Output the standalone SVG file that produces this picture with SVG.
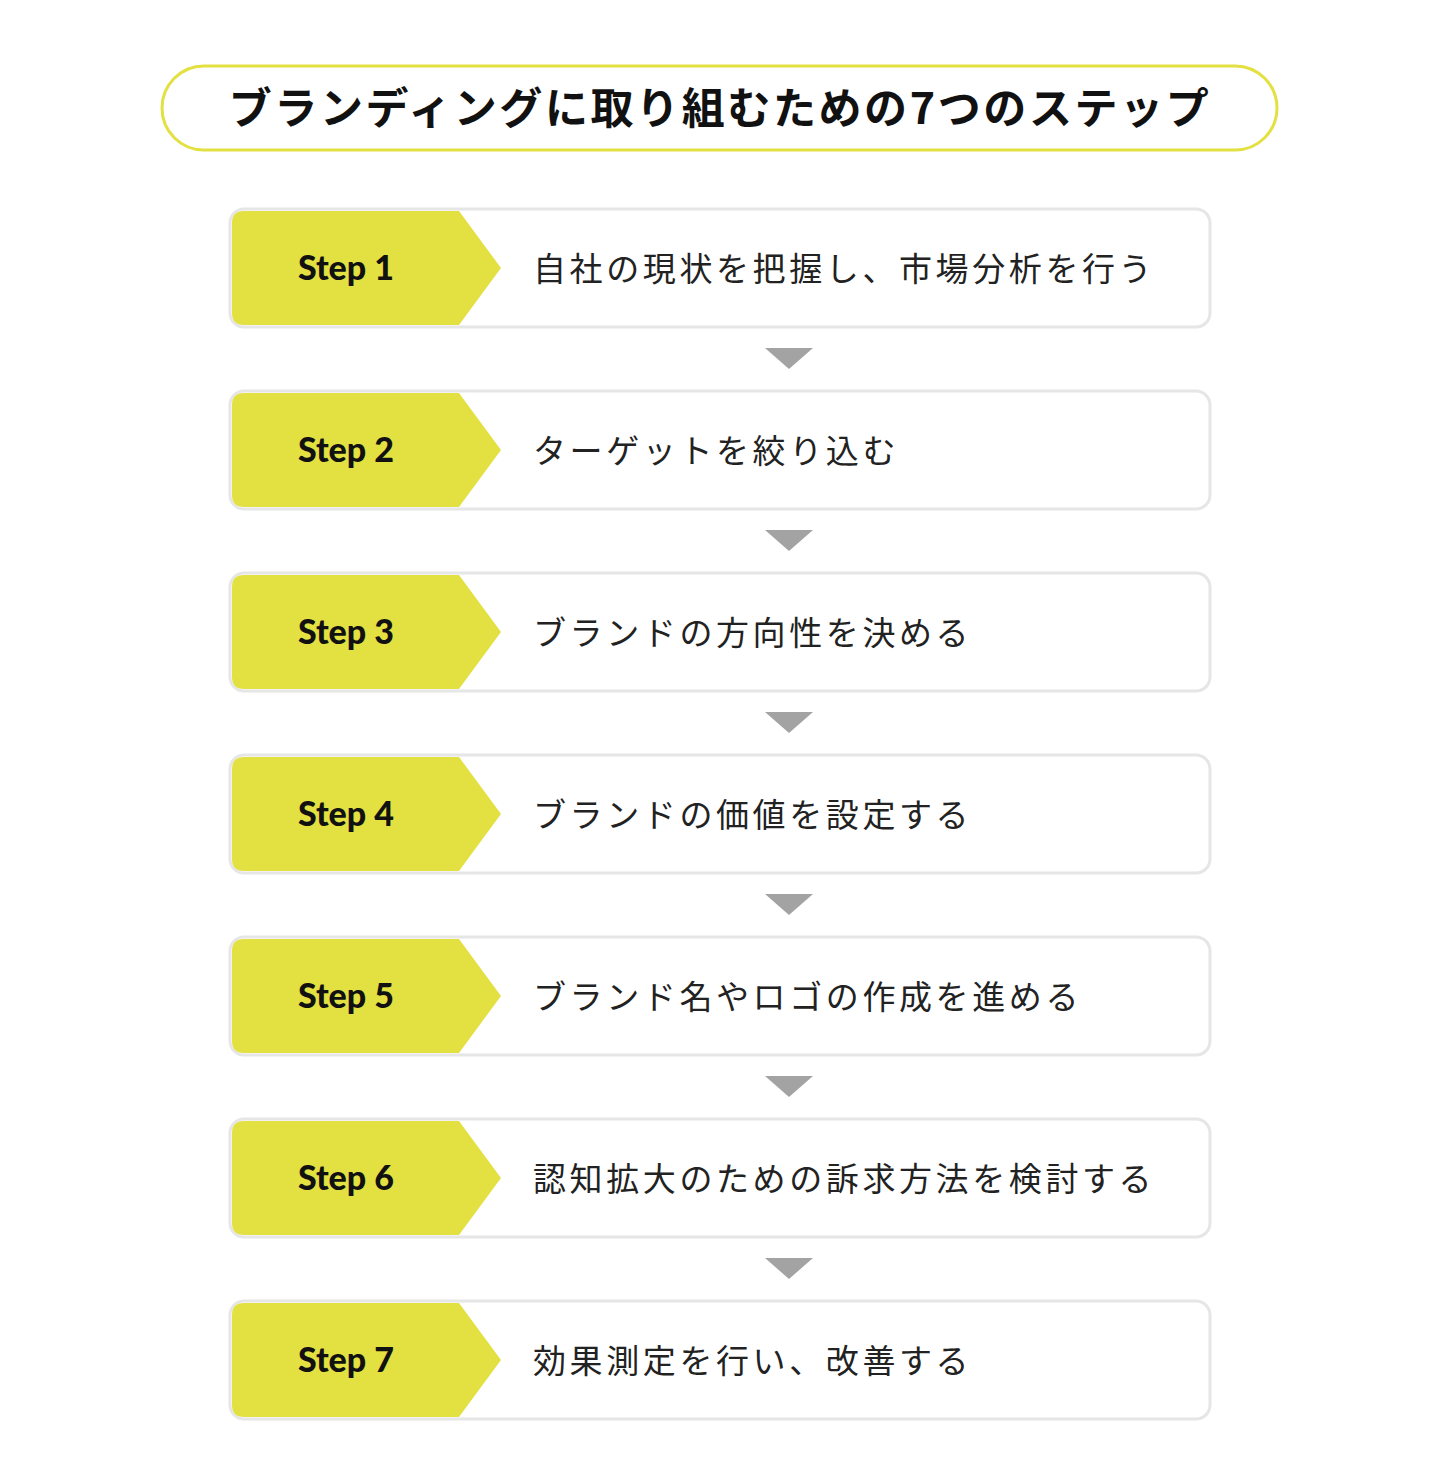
<svg xmlns="http://www.w3.org/2000/svg" width="1440" height="1484" viewBox="0 0 1440 1484">
<style>
.box{fill:#fff;stroke:#e6e6e6;stroke-width:3}
.tag{fill:#e3e042}
.st{font-family:Lato,"Noto Sans",sans-serif;font-weight:900;font-size:34px;fill:#111;text-anchor:middle}
.ds{font-family:"Noto Sans CJK JP",sans-serif;font-size:33px;fill:#222;letter-spacing:3.6px}
.ar{fill:#a3a3a3}
</style>
<defs>
<g id="card">
<rect class="box" x="230" y="0" width="980" height="118" rx="14"/>
<path class="tag" d="M244,2 H459 L501,59 L459,116 H244 Q232,116 232,104 V14 Q232,2 244,2 Z"/>
</g>
</defs>
<rect width="1440" height="1484" fill="#fff"/>
<g id="title">
<rect x="162" y="66" width="1115" height="84" rx="42" fill="#fff" stroke="#e3e042" stroke-width="3"/>
<text x="720" y="124" font-family="'Noto Sans CJK JP',sans-serif" font-weight="700" font-size="43" letter-spacing="2.6" text-anchor="middle" fill="#111">ブランディングに取り組むための7つのステップ</text>
</g>
<g id="connectors">
<path class="ar" d="M765,348 H813 L789,369 Z"/>
<path class="ar" d="M765,530 H813 L789,551 Z"/>
<path class="ar" d="M765,712 H813 L789,733 Z"/>
<path class="ar" d="M765,894 H813 L789,915 Z"/>
<path class="ar" d="M765,1076 H813 L789,1097 Z"/>
<path class="ar" d="M765,1258 H813 L789,1279 Z"/>
</g>
<g id="step1" transform="translate(0,209)"><use href="#card"/><text class="st" x="346" y="71">Step 1</text><text class="ds" x="533" y="72">自社の現状を把握し、市場分析を行う</text></g>
<g id="step2" transform="translate(0,391)"><use href="#card"/><text class="st" x="346" y="71">Step 2</text><text class="ds" x="533" y="72">ターゲットを絞り込む</text></g>
<g id="step3" transform="translate(0,573)"><use href="#card"/><text class="st" x="346" y="71">Step 3</text><text class="ds" x="533" y="72">ブランドの方向性を決める</text></g>
<g id="step4" transform="translate(0,755)"><use href="#card"/><text class="st" x="346" y="71">Step 4</text><text class="ds" x="533" y="72">ブランドの価値を設定する</text></g>
<g id="step5" transform="translate(0,937)"><use href="#card"/><text class="st" x="346" y="71">Step 5</text><text class="ds" x="533" y="72">ブランド名やロゴの作成を進める</text></g>
<g id="step6" transform="translate(0,1119)"><use href="#card"/><text class="st" x="346" y="71">Step 6</text><text class="ds" x="533" y="72">認知拡大のための訴求方法を検討する</text></g>
<g id="step7" transform="translate(0,1301)"><use href="#card"/><text class="st" x="346" y="71">Step 7</text><text class="ds" x="533" y="72">効果測定を行い、改善する</text></g>
</svg>
